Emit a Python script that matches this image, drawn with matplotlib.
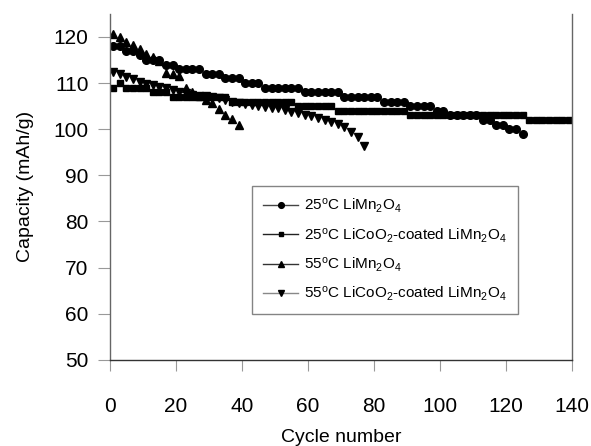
import matplotlib
matplotlib.use("Agg")
import matplotlib.pyplot as plt
from matplotlib.lines import Line2D

plt.rcParams['font.family'] = ['Liberation Sans', 'DejaVu Sans']
plt.rcParams['mathtext.fontset'] = 'custom'
plt.rcParams['mathtext.rm'] = 'Liberation Sans'
plt.rcParams['mathtext.it'] = 'Liberation Sans:italic'

# 25C LiMn2O4 (circles)
cyc_a = list(range(1, 127, 2))
cap_a = [118, 118, 117, 117, 116, 115, 115, 115, 114, 114,
         113, 113, 113, 113, 112, 112, 112, 111, 111, 111,
         110, 110, 110, 109, 109, 109, 109, 109, 109, 108,
         108, 108, 108, 108, 108, 107, 107, 107, 107, 107,
         107, 106, 106, 106, 106, 105, 105, 105, 105, 104,
         104, 103, 103, 103, 103, 103, 102, 102, 101, 101,
         100, 100, 99]

# 25C LiCoO2-coated LiMn2O4 (squares)
cyc_b = list(range(1, 141, 2))
cap_b = [109, 110, 109, 109, 109, 109, 108, 108, 108, 107,
         107, 107, 107, 107, 107, 107, 107, 107, 106, 106,
         106, 106, 106, 106, 106, 106, 106, 106, 105, 105,
         105, 105, 105, 105, 104, 104, 104, 104, 104, 104,
         104, 104, 104, 104, 104, 103, 103, 103, 103, 103,
         103, 103, 103, 103, 103, 103, 103, 103, 103, 103,
         103, 103, 103, 102, 102, 102, 102, 102, 102, 102]

# 55C LiMn2O4 (up triangles)
cyc_c = list(range(1, 41, 2))
cap_c = [120.7, 120.0, 119.0, 118.2, 117.3, 116.4, 115.6, 114.8, 112.2, 111.9,
         111.5, 108.9, 108.1, 107.2, 106.4, 105.6, 104.3, 103.1, 102.2, 101.0]

# 55C LiCoO2-coated LiMn2O4 (down triangles)
cyc_d = list(range(1, 79, 2))
cap_d = [112.4, 111.9, 111.4, 110.8, 110.3, 109.9, 109.6, 109.2, 108.9, 108.5,
         108.1, 107.8, 107.5, 107.3, 107.1, 106.9, 106.7, 106.3, 105.9, 105.6,
         105.4, 105.2, 105.0, 104.8, 104.6, 104.5, 104.2, 103.8, 103.5, 103.1,
         102.8, 102.4, 101.9, 101.5, 101.1, 100.4, 99.4, 98.2, 96.3]

labels = ['25$^{\\rm o}$C LiMn$_2$O$_4$',
          '25$^{\\rm o}$C LiCoO$_2$-coated LiMn$_2$O$_4$',
          '55$^{\\rm o}$C LiMn$_2$O$_4$',
          '55$^{\\rm o}$C LiCoO$_2$-coated LiMn$_2$O$_4$']
markers = ['o', 's', '^', 'v']
sizes = [5.5, 4.8, 6, 6]
line_cols = ['#444444', '#222222', '#333333', '#888888']

fig = plt.figure(figsize=(5.91, 4.46), dpi=100)
ax = fig.add_axes([0.186, 0.193, 0.782, 0.776])

for x, y, m, s in zip([cyc_a, cyc_b, cyc_c, cyc_d], [cap_a, cap_b, cap_c, cap_d], markers, sizes):
    ax.plot(x, y, linestyle='none', marker=m, markersize=s, color='black')

ax.set_xlim(0, 140)
ax.set_ylim(50, 125)
ax.set_xticks(range(0, 141, 20))
ax.set_yticks(range(50, 121, 10))
ax.spines['top'].set_visible(False)
for sp in ['left', 'bottom', 'right']:
    ax.spines[sp].set_color('#666666')
    ax.spines[sp].set_linewidth(1)
ax.spines['bottom'].set_color('#333333')
ax.tick_params(axis='x', direction='out', length=8, pad=19, labelsize=15, color='#999999')
ax.tick_params(axis='y', direction='out', length=8.5, pad=7, labelsize=15, color='#999999')
ax.set_xlabel('Cycle number', fontsize=14, labelpad=9)
ax.set_ylabel('Capacity (mAh/g)', fontsize=14, labelpad=14)

handles = [Line2D([0], [0], color=c, lw=1, marker=m, markersize=s * 0.75,
                  markerfacecolor='black', markeredgecolor='black')
           for m, s, c in zip(markers, sizes, line_cols)]
leg = ax.legend(handles, labels, loc='lower left', bbox_to_anchor=(0.307, 0.132),
                fontsize=11, frameon=True, fancybox=False, handlelength=2.3,
                labelspacing=0.7, borderpad=0.75, handletextpad=0.35,
                borderaxespad=0)
leg.get_frame().set_edgecolor('#666666')
leg.get_frame().set_linewidth(1)

fig.savefig('out.png', dpi=100)
